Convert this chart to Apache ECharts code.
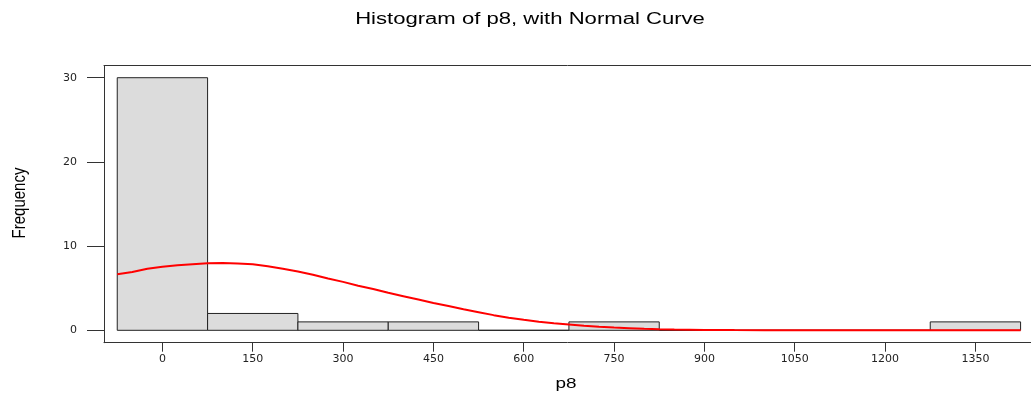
<!DOCTYPE html>
<html>
<head>
<meta charset="utf-8">
<script src="https://cdn.jsdelivr.net/npm/echarts@6/dist/echarts.min.js"></script>
<style>
  html, body { margin: 0; padding: 0; background: #fff; }
  #chart { width: 1031px; height: 398px; }
</style>
</head>
<body>
<div id="chart"></div>
<script>
// ---- data ----
const binStart = [-75, 75, 225, 375, 525, 675, 825, 975, 1125, 1275];
const binEnd   = [75, 225, 375, 525, 675, 825, 975, 1125, 1275, 1425];
const binCount = [30, 2, 1, 1, 0, 1, 0, 0, 0, 1];

const curveX = [-75, -50, -25, 0, 25, 50, 75, 100, 125, 150, 175, 200, 225, 250, 275, 300, 325, 350, 375, 400,
  425, 450, 475, 500, 525, 550, 575, 600, 625, 650, 675, 700, 725, 750, 775, 800, 825, 850, 875, 900,
  950, 1000, 1050, 1100, 1200, 1300, 1425];
const curveY = [6.65, 6.92, 7.3, 7.55, 7.72, 7.85, 7.97, 7.98, 7.93, 7.85, 7.6, 7.3, 6.98, 6.6, 6.15, 5.75, 5.3, 4.9, 4.45, 4.05,
  3.65, 3.25, 2.88, 2.5, 2.15, 1.8, 1.5, 1.25, 1.02, 0.85, 0.7, 0.55, 0.42, 0.32, 0.25, 0.18, 0.13, 0.09, 0.07, 0.05,
  0.03, 0.02, 0.01, 0, 0, 0, 0];

const xTicks = [0, 150, 300, 450, 600, 750, 900, 1050, 1200, 1350];
const yTicks = [0, 10, 20, 30];

const titleText = 'Histogram of p8, with Normal Curve';
const xName = 'p8';
const yName = 'Frequency';

// ---- build ----
const histData = binStart.map((s, i) => [s, binEnd[i], binCount[i]]);
const curveData = curveX.map((x, i) => [x, curveY[i]]);

const chart = echarts.init(document.getElementById('chart'), null, { renderer: 'canvas' });
const stretch = 1.38;
const frameLine = { show: true, onZero: false, lineStyle: { color: '#333333', width: 1 } };
const option = {
  animation: false,
  backgroundColor: '#ffffff',
  grid: {
    show: false,
    left: 104,
    top: 65.5,
    right: 0,
    bottom: 55.3
  },
  graphic: [
    {
      type: 'text', x: 530, y: 20, scaleX: stretch, silent: true,
      style: { text: titleText, x: 0, y: 0, textAlign: 'center', textVerticalAlign: 'middle',
        font: '16px "Liberation Sans", Arial, sans-serif', fill: '#000' }
    },
    {
      type: 'text', x: 566, y: 384, scaleX: 1.35, silent: true,
      style: { text: xName, x: 0, y: 0, textAlign: 'center', textVerticalAlign: 'middle',
        font: '14px "Liberation Sans", Arial, sans-serif', fill: '#000' }
    },
    {
      type: 'text', x: 20, y: 203, rotation: Math.PI / 2, scaleY: 1.25, silent: true,
      style: { text: yName, x: 0, y: 0, textAlign: 'center', textVerticalAlign: 'middle',
        font: '15px "Liberation Sans", Arial, sans-serif', fill: '#000' }
    }
  ],
  xAxis: [
    {
      type: 'value',
      position: 'bottom',
      min: -97,
      max: 1442.3,
      axisLine: frameLine,
      splitLine: { show: false },
      axisTick: { show: true, length: 9, customValues: xTicks, lineStyle: { color: '#333', width: 1 } },
      axisLabel: { show: true, customValues: xTicks, margin: 11, color: '#222',
        fontFamily: 'DejaVu Sans', fontSize: 11, formatter: function (v) { return String(v); } }
    },
    {
      type: 'value',
      position: 'top',
      min: -97,
      max: 1442.3,
      axisLine: frameLine,
      splitLine: { show: false },
      axisTick: { show: false },
      axisLabel: { show: false }
    }
  ],
  yAxis: {
    type: 'value',
    min: -1.473,
    max: 31.45,
    axisLine: frameLine,
    splitLine: { show: false },
    axisTick: { show: true, length: 17, customValues: yTicks, lineStyle: { color: '#333', width: 1 } },
    axisLabel: { show: true, customValues: yTicks, margin: 27, color: '#222',
      fontFamily: 'DejaVu Sans', fontSize: 11, formatter: function (v) { return String(v); } }
  },
  series: [
    {
      type: 'custom',
      name: 'hist',
      data: histData,
      xAxisIndex: 0,
      encode: { x: [0, 1], y: 2 },
      renderItem: function (params, api) {
        const p0 = api.coord([api.value(0), 0]);
        const p1 = api.coord([api.value(1), api.value(2)]);
        return {
          type: 'rect',
          shape: { x: p0[0], y: p1[1], width: p1[0] - p0[0], height: p0[1] - p1[1] },
          style: { fill: '#dcdcdc', stroke: '#222', lineWidth: 1 }
        };
      },
      z: 2
    },
    {
      type: 'line',
      name: 'normal',
      xAxisIndex: 0,
      data: curveData,
      showSymbol: false,
      smooth: false,
      lineStyle: { color: '#ff0000', width: 2 },
      z: 3
    }
  ]
};
chart.setOption(option);
</script>
</body>
</html>
